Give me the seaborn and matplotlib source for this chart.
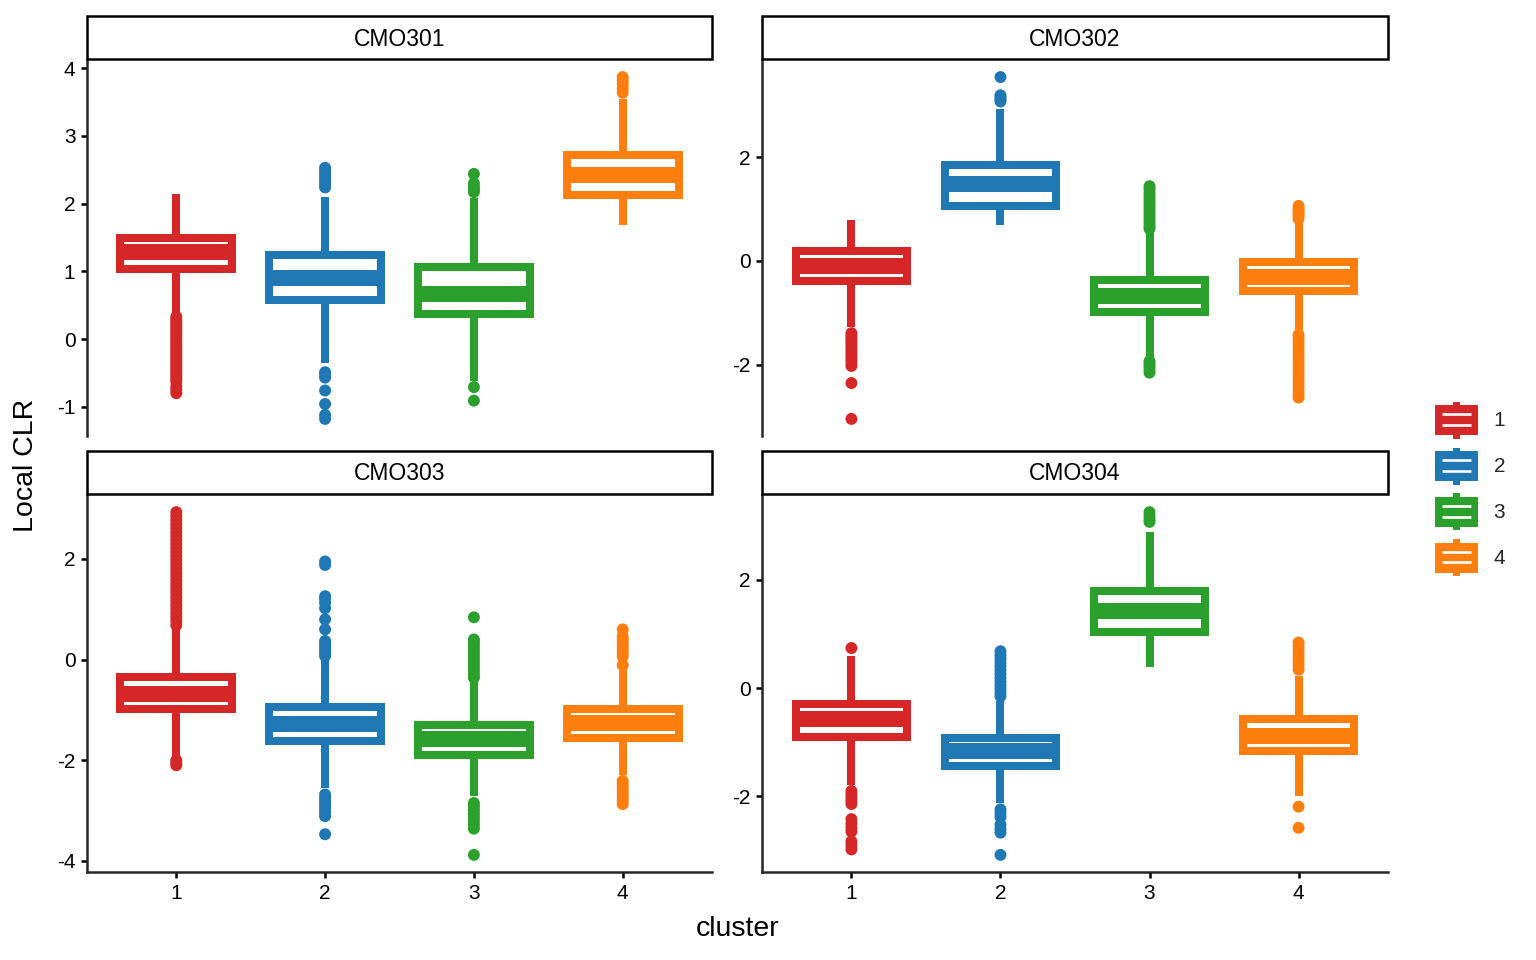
import numpy as np
import pandas as pd
import matplotlib
matplotlib.use("Agg")
import matplotlib.pyplot as plt
import seaborn as sns
from matplotlib.legend_handler import HandlerBase
from matplotlib.patches import Rectangle, Patch
from matplotlib.lines import Line2D

# ---------------- data ----------------
samples = ["CMO301", "CMO302", "CMO303", "CMO304"]
clusters = ["1", "2", "3", "4"]
palette = ["#D62728", "#1F77B4", "#2CA02C", "#FF7F0E"]

# rows = samples, columns = clusters 1..4
q1 = [
    [1.04, 0.575, 0.376, 2.135],
    [-0.39, 1.05, -0.98, -0.58],
    [-0.99, -1.61, -1.89, -1.55],
    [-0.91, -1.43, 1.04, -1.17],
]
median = [
    [1.29, 0.90, 0.66, 2.42],
    [-0.087, 1.49, -0.67, -0.30],
    [-0.69, -1.27, -1.58, -1.26],
    [-0.57, -1.17, 1.42, -0.89],
]
q3 = [
    [1.50, 1.24, 1.07, 2.72],
    [0.20, 1.84, -0.36, -0.025],
    [-0.34, -0.94, -1.29, -0.98],
    [-0.29, -0.93, 1.80, -0.57],
]
whisker_lo = [
    [0.36, -0.35, -0.62, 1.69],
    [-1.27, 0.70, -1.85, -1.33],
    [-1.92, -2.56, -2.72, -2.29],
    [-1.79, -2.13, 0.385, -2.00],
]
whisker_hi = [
    [2.15, 2.10, 2.08, 3.54],
    [0.79, 2.92, 0.54, 0.73],
    [0.62, -0.01, -0.42, -0.17],
    [0.59, -0.24, 2.88, 0.23],
]

out_cmo301 = [
    [0.33, 0.29, 0.25, 0.21, 0.17, 0.13, 0.09, 0.05, 0.01, -0.03, -0.07, -0.11, -0.15, -0.19,
     -0.23, -0.27, -0.31, -0.35, -0.39, -0.43, -0.47, -0.51, -0.55, -0.59, -0.63, -0.70, -0.75, -0.80],
    [2.53, 2.49, 2.44, 2.39, 2.34, 2.29, 2.24, -0.49, -0.53, -0.57, -0.76, -0.96, -1.12, -1.18],
    [2.44, 2.30, 2.25, 2.21, 2.17, -0.71, -0.91],
    [3.87, 3.82, 3.77, 3.70, 3.64],
]
out_cmo302 = [
    [-1.39, -1.44, -1.49, -1.54, -1.60, -1.66, -1.72, -1.78, -1.84, -1.90, -1.96, -2.02, -2.35, -3.04],
    [3.54, 3.19, 3.15, 3.11, 3.07],
    [1.44, 1.39, 1.33, 1.27, 1.21, 1.15, 1.09, 1.03, 0.97, 0.91, 0.85, 0.79, 0.73, 0.67, 0.62,
     -1.93, -1.98, -2.03, -2.09, -2.15],
    [1.06, 1.01, 0.96, 0.91, 0.86, 0.81, -1.42, -1.49, -1.56, -1.63, -1.70, -1.78, -1.86, -1.94,
     -2.02, -2.10, -2.18, -2.26, -2.34, -2.42, -2.50, -2.57, -2.63],
]
out_cmo303 = [
    [2.93, 2.85, 2.77, 2.69, 2.61, 2.53, 2.45, 2.37, 2.29, 2.21, 2.13, 2.05, 1.97, 1.89, 1.81,
     1.73, 1.65, 1.57, 1.49, 1.41, 1.33, 1.25, 1.17, 1.09, 1.01, 0.93, 0.85, 0.77, 0.68,
     -2.00, -2.05, -2.10],
    [1.95, 1.88, 1.26, 1.20, 1.13, 1.02, 0.80, 0.60, 0.37, 0.31, 0.25, 0.19, 0.13, 0.07,
     -2.68, -2.75, -2.82, -2.89, -2.96, -3.03, -3.11, -3.47],
    [0.84, 0.40, 0.34, 0.27, 0.20, 0.13, 0.06, -0.01, -0.08, -0.15, -0.22, -0.29, -0.36,
     -2.85, -2.92, -2.99, -3.06, -3.13, -3.20, -3.28, -3.36, -3.88],
    [0.60, 0.46, 0.40, 0.33, 0.26, 0.19, 0.12, 0.06, -0.11,
     -2.41, -2.47, -2.53, -2.60, -2.67, -2.74, -2.80, -2.87],
]
out_cmo304 = [
    [0.74, -1.90, -1.96, -2.02, -2.08, -2.14, -2.42, -2.50, -2.58, -2.65, -2.83, -2.90, -2.98],
    [0.68, 0.61, 0.54, 0.47, 0.40, 0.33, 0.26, 0.19, 0.12, 0.05, -0.02, -0.09, -0.15,
     -2.24, -2.31, -2.38, -2.52, -2.60, -2.67, -3.08],
    [3.25, 3.18, 3.12, 3.07],
    [0.84, 0.77, 0.70, 0.63, 0.56, 0.49, 0.42, 0.34, -2.19, -2.58],
]
outliers = [out_cmo301, out_cmo302, out_cmo303, out_cmo304]
y_tick_step = [1, 2, 2, 2]

# ---------------- long table of outlier points ----------------
rows = []
for s, per_cluster in zip(samples, outliers):
    for c, vals in zip(clusters, per_cluster):
        for v in vals:
            rows.append((s, c, v))
df_out = pd.DataFrame(rows, columns=["sample", "cluster", "value"])

# ---------------- style ----------------
sns.set_theme(style="ticks")
plt.rcParams["font.family"] = ["Liberation Sans", "DejaVu Sans"]
plt.rcParams["axes.unicode_minus"] = False

W, H = 1536, 960
LW = 5.76          # ~8 px box line width
SPINE = 1.8

g = sns.FacetGrid(df_out, col="sample", col_order=samples, col_wrap=2,
                  sharey=False, sharex=False, height=4.8, aspect=1.6)
fig = g.figure
g.set_titles("")

positions_px = {
    "CMO301": (87, 60, 712, 436),
    "CMO302": (762, 60, 1388, 436),
    "CMO303": (87, 495, 712, 872),
    "CMO304": (762, 495, 1388, 872),
}

for i, s in enumerate(samples):
    ax = g.axes_dict[s]
    stats = [dict(med=median[i][j], q1=q1[i][j], q3=q3[i][j],
                  whislo=whisker_lo[i][j], whishi=whisker_hi[i][j], fliers=[])
             for j in range(4)]
    art = ax.bxp(stats, positions=range(4), widths=0.75, patch_artist=True,
                 showfliers=False, showcaps=False, manage_ticks=False)
    for j, c in enumerate(palette):
        b = art["boxes"][j]
        b.set_facecolor("white")
        b.set_edgecolor(c)
        b.set_linewidth(LW)
        b.set_joinstyle("miter")
        b.set_zorder(2)
        art["medians"][j].set(color=c, linewidth=2 * LW, solid_capstyle="butt", zorder=2.2)
        for w in art["whiskers"][2 * j:2 * j + 2]:
            w.set(color=c, linewidth=LW, solid_capstyle="butt", zorder=1.9)

    sub = df_out[df_out["sample"] == s]
    sns.stripplot(data=sub, x="cluster", y="value", hue="cluster", order=clusters,
                  hue_order=clusters, palette=palette, jitter=False, size=8.6,
                  linewidth=0, legend=False, ax=ax, zorder=3)

    # y limits: data range with 5% expansion
    allv = np.concatenate([sub["value"].values, whisker_lo[i], whisker_hi[i]])
    lo, hi = allv.min(), allv.max()
    pad = 0.05 * (hi - lo)
    ax.set_ylim(lo - pad, hi + pad)
    step = y_tick_step[i]
    ticks = np.arange(np.ceil((lo - pad) / step) * step, hi + pad + 1e-9, step)
    ax.set_yticks(ticks)
    ax.set_yticklabels([f"{t:g}" for t in ticks])
    ax.set_xlim(-0.6, 3.6)
    ax.set_xticks(range(4))
    ax.set_xlabel("")
    ax.set_ylabel("")
    ax.set_title("")

    x0, y0, x1, y1 = positions_px[s]
    ax.set_position([x0 / W, 1 - y1 / H, (x1 - x0) / W, (y1 - y0) / H])

    for sp in ["top", "right"]:
        ax.spines[sp].set_visible(False)
    ax.spines["left"].set_linewidth(SPINE)
    ax.spines["bottom"].set_linewidth(SPINE)
    ax.tick_params(axis="both", length=4.3, width=SPINE, labelsize=15, pad=4,
                   colors="black", labelcolor="black")
    bottom_row = s in ("CMO303", "CMO304")
    if bottom_row:
        ax.set_xticklabels(clusters)
    else:
        ax.spines["bottom"].set_visible(False)
        ax.tick_params(axis="x", bottom=False, labelbottom=False)

    # facet strip
    ph = (y1 - y0)
    sh = 43 / ph
    ax.add_patch(Rectangle((0, 1.0 + 1.5 / ph), 1, sh - 0.5 / ph,
                           transform=ax.transAxes, facecolor="white",
                           edgecolor="black", linewidth=SPINE, clip_on=False, zorder=5))
    ax.text(0.5, 1.0 + sh / 2 - 0.5 / ph, s, transform=ax.transAxes,
            ha="center", va="center", fontsize=16.5, color="black", zorder=6)

# axis titles
fig.text(26 / W, 1 - 465 / H, "Local CLR", rotation=90, ha="center", va="center",
         fontsize=20.5, color="black")
fig.text(738 / W, 1 - 929 / H, "cluster", ha="center", va="center",
         fontsize=20.5, color="black")


# legend with mini boxplot keys
class BoxKey(HandlerBase):
    def create_artists(self, legend, orig_handle, xdescent, ydescent, width,
                       height, fontsize, trans):
        color = orig_handle.get_facecolor()
        x0, y0 = -xdescent, -ydescent
        stub = height * 0.09
        body_h = height - 2 * stub
        rect = Rectangle((x0, y0 + stub), width, body_h, facecolor=color,
                         edgecolor="none", transform=trans)
        arts = [rect]
        for f in (0.35, 0.69):
            yy = y0 + stub + body_h * f
            arts.append(Line2D([x0 + width * 0.17, x0 + width * 0.83], [yy, yy],
                               color="white", linewidth=1.9, solid_capstyle="butt",
                               transform=trans))
        cx = x0 + width / 2
        for ya, yb in ((y0, y0 + stub), (y0 + height - stub, y0 + height)):
            arts.append(Rectangle((cx - width * 0.09, ya), width * 0.18, yb - ya,
                                  facecolor=color, edgecolor="none", transform=trans))
        return arts


handles = [Patch(facecolor=c) for c in palette]
fig.legend(handles, clusters, handler_map={Patch: BoxKey()}, loc="center left",
           bbox_to_anchor=(1435 / W, 1 - 489 / H), frameon=False, fontsize=15,
           handlelength=2.07, handleheight=2.355, labelspacing=0.43,
           handletextpad=0.75, borderpad=0, borderaxespad=0)

fig.set_size_inches(W / 100, H / 100)
fig.savefig("out.png", dpi=100, facecolor="white")
